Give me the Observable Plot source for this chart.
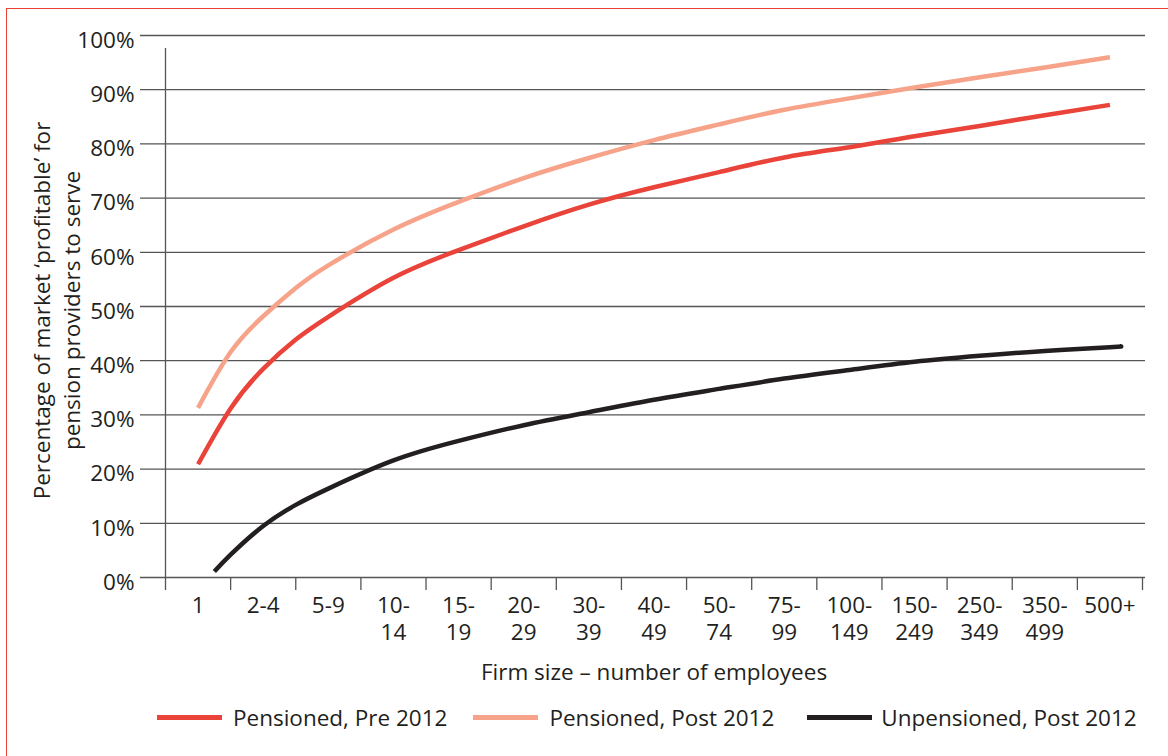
<!DOCTYPE html>
<html>
<head>
<meta charset="utf-8">
<script src="https://cdn.jsdelivr.net/npm/d3@7"></script>
<script src="https://cdn.jsdelivr.net/npm/@observablehq/plot@0.6"></script>
<style>
  html, body { margin: 0; padding: 0; background: #ffffff; }
  #wrap { position: relative; width: 1168px; height: 756px; overflow: hidden; font-family: "Open Sans", sans-serif; color: #231f20; }
  #frame { position: absolute; left: 6px; top: 8px; width: 1200px; height: 800px; border-left: 1px solid #e8412f; border-top: 1px solid #e8412f; pointer-events: none; }
  #chart { position: relative; }
  #legend { position: relative; display: flex; align-items: center; height: 30px; margin-top: 12px; padding-left: 157px; font-size: 22.5px; white-space: nowrap; }
  .item { display: flex; align-items: center; }
  .swatch { display: inline-block; width: 65px; height: 5px; }
</style>
</head>
<body>
<div id="wrap">
  <div id="chart"></div>
  <div id="legend"></div>
  <div id="frame"></div>
</div>
<script>
// ---- data ----
const categories = ["1", "2-4", "5-9", "10-\n14", "15-\n19", "20-\n29", "30-\n39", "40-\n49",
                    "50-\n74", "75-\n99", "100-\n149", "150-\n249", "250-\n349", "350-\n499", "500+"];
const seriesNames = ["Pensioned, Pre 2012", "Pensioned, Post 2012", "Unpensioned, Post 2012"];
const seriesColors = ["#e9433a", "#f7a38a", "#231f20"];

// values in % (positions are category indices; .5 = category boundary)
const pensionedPrePos = [0, 0.5, 1, 1.5, 2, 3, 4, 5, 6, 7, 8, 9, 10, 11, 12, 13, 14];
const pensionedPre = [20.9, 31.2, 38.5, 43.9, 48.1, 55.3, 60.4, 64.8, 68.8, 72.0, 74.8, 77.5, 79.4, 81.4, 83.3, 85.3, 87.2];

const pensionedPostPos = [0, 0.5, 1, 1.5, 2, 3, 4, 5, 6, 7, 8, 9, 10, 11, 12, 13, 14];
const pensionedPost = [31.3, 41.6, 48.2, 53.4, 57.6, 64.2, 69.3, 73.7, 77.4, 80.7, 83.6, 86.3, 88.4, 90.4, 92.3, 94.1, 96.0];

const unpensionedPostPos = [0.25, 0.5, 1, 1.5, 2, 3, 4, 5, 6, 7, 8, 9, 10, 11, 12, 13, 14, 14.16];
const unpensionedPost = [1.1, 4.2, 9.5, 13.4, 16.4, 21.6, 25.2, 28.1, 30.5, 32.8, 34.8, 36.7, 38.3, 39.8, 40.9, 41.8, 42.5, 42.6];

const yTicks = [0, 10, 20, 30, 40, 50, 60, 70, 80, 90, 100];
const yTitle = "Percentage of market \u2018profitable\u2019 for\npension providers to serve";
const xTitle = "Firm size \u2013 number of employees";

// ---- build table ----
const rows = [];
pensionedPre.forEach((v, i) => rows.push({series: seriesNames[0], pos: pensionedPrePos[i], value: v}));
pensionedPost.forEach((v, i) => rows.push({series: seriesNames[1], pos: pensionedPostPos[i], value: v}));
unpensionedPost.forEach((v, i) => rows.push({series: seriesNames[2], pos: unpensionedPostPos[i], value: v}));

const centers = categories.map((d, i) => i);
const boundaries = categories.map((d, i) => i - 0.5).concat([categories.length - 0.5]);
const gridColor = "#555555";
const textColor = "#231f20";
const fs = 22.5;

const chart = Plot.plot({
  width: 1168,
  height: 690,
  marginLeft: 165,
  marginRight: 26,
  marginTop: 35,
  marginBottom: 113,
  style: {fontFamily: "'Open Sans', sans-serif", fontSize: fs + "px", color: textColor, background: "transparent"},
  x: {domain: [-0.5, categories.length - 0.5], axis: null},
  y: {domain: [0, 100], axis: null},
  color: {domain: seriesNames, range: seriesColors},
  marks: [
    Plot.ruleY(yTicks, {stroke: gridColor, strokeWidth: 1.3, insetLeft: -25, insetRight: -3}),
    Plot.ruleX([boundaries[0]], {y1: 0, y2: 100, stroke: gridColor, strokeWidth: 1.3, insetBottom: -13}),
    Plot.ruleX(boundaries, {y1: 0, y2: 0, stroke: gridColor, strokeWidth: 1.3, insetBottom: -13}),
    Plot.axisY({ticks: yTicks, tickSize: 0, tickPadding: 31, tickFormat: d => d + "%", fill: textColor, dy: 5, label: null, fontSize: fs}),
    Plot.axisX({ticks: centers, tickSize: 0, tickPadding: 17, tickFormat: i => categories[i], fill: textColor, lineHeight: 1.18, label: null, fontSize: fs}),
    Plot.line(rows, {x: "pos", y: "value", z: "series", stroke: "series", strokeWidth: 4.5, curve: "natural", strokeLinecap: "butt"}),
    Plot.text([yTitle], {frameAnchor: "left", textAnchor: "middle", lineAnchor: "middle", dx: -110, dy: 4, rotate: -90, lineHeight: 1.35, fill: textColor, fontSize: fs}),
    Plot.text([xTitle], {frameAnchor: "bottom", lineAnchor: "middle", dy: 95, fill: textColor, fontSize: fs})
  ]
});
document.getElementById("chart").appendChild(chart);

// ---- legend ----
const legend = document.getElementById("legend");
const gapsAfterSwatch = [11, 11, 9];
const gapsAfterText = [26, 33, 0];
seriesNames.forEach((name, i) => {
  const item = document.createElement("div");
  item.className = "item";
  item.style.marginRight = gapsAfterText[i] + "px";
  const sw = document.createElement("span");
  sw.className = "swatch";
  sw.style.background = seriesColors[i];
  sw.style.marginRight = gapsAfterSwatch[i] + "px";
  const label = document.createElement("span");
  label.textContent = name;
  item.appendChild(sw);
  item.appendChild(label);
  legend.appendChild(item);
});
</script>
</body>
</html>
